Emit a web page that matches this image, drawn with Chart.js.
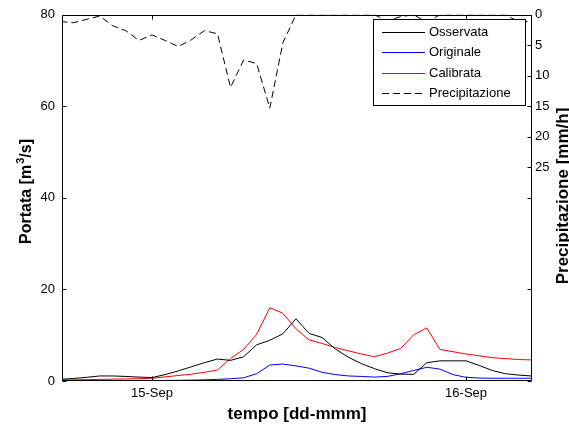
<!DOCTYPE html>
<html>
<head>
<meta charset="utf-8">
<script src="https://cdn.jsdelivr.net/npm/chart.js@4/dist/chart.umd.min.js"></script>
<style>
  html, body { margin: 0; padding: 0; background: #fff; }
</style>
</head>
<body>
<canvas id="chart" width="569" height="425"></canvas>
<script>
//* Data
// hours from 15-Sep 00:00, hourly steps
const hours = [-7, -6, -5, -4, -3, -2, -1, 0, 1, 2, 3, 4, 5, 6, 7, 8, 9, 10, 11, 12, 13, 14, 15, 16, 17, 18, 19, 20, 21, 22, 23, 24, 25, 26, 27, 28, 29];

const osservata = [0.35, 0.55, 0.8, 1.1, 1.1, 1.0, 0.85, 0.75, 1.4, 2.2, 3.1, 4.0, 4.8, 4.5, 5.3, 7.9, 8.9, 10.3, 13.6, 10.4, 9.5, 7.0, 5.2, 3.8, 2.7, 1.8, 1.5, 1.45, 4.0, 4.4, 4.4, 4.4, 3.4, 2.3, 1.6, 1.3, 1.1];
const originale = [0.1, 0.1, 0.1, 0.1, 0.1, 0.1, 0.1, 0.1, 0.12, 0.15, 0.2, 0.25, 0.35, 0.5, 0.7, 1.6, 3.5, 3.7, 3.3, 2.8, 1.9, 1.4, 1.1, 1.0, 0.85, 1.0, 1.6, 2.3, 3.0, 2.6, 1.4, 0.8, 0.65, 0.6, 0.6, 0.6, 0.6];
const calibrata = [0.2, 0.25, 0.3, 0.35, 0.4, 0.45, 0.5, 0.6, 0.9, 1.2, 1.5, 1.9, 2.4, 4.9, 6.9, 10.2, 16.0, 14.8, 11.4, 9.0, 8.2, 7.3, 6.6, 5.9, 5.3, 6.1, 7.1, 10.1, 11.6, 6.9, 6.4, 5.9, 5.5, 5.1, 4.9, 4.7, 4.6];
const precipitazione = [1.1, 1.3, 0.75, 0.2, 1.8, 2.6, 4.2, 3.3, 4.2, 5.2, 4.1, 2.6, 3.1, 11.9, 7.4, 8.0, 15.3, 4.6, 0, 0, 0, 0, 0, 0, 0, 1.0, 0.3, 0, 1.2, 0, 0, 0, 0, 0, 0, 1.1, 1.1];

const xTickHours = [0, 24];
const xTickLabels = ['15-Sep', '16-Sep'];
const yTicks = [0, 20, 40, 60, 80];
const y1Ticks = [0, 5, 10, 15, 20, 25];

const FONT = "'Liberation Sans', Arial, Helvetica, sans-serif";

const pts = arr => hours.map((h, i) => ({ x: h, y: arr[i] }));

//* MATLAB style frame, inward ticks, titles and legend
const matlabAxes = {
  id: 'matlabAxes',
  afterDatasetsDraw(chart) {
    const ctx = chart.ctx;
    const a = chart.chartArea;
    const sx = chart.scales.x, sy = chart.scales.y, sy1 = chart.scales.y1;
    const L = Math.round(a.left) + 0.5, R = Math.round(a.right) - 0.5;
    const T = Math.round(a.top) + 0.5, B = Math.round(a.bottom) - 0.5;
    const tl = 4;
    ctx.save();
    ctx.strokeStyle = '#000';
    ctx.lineWidth = 1;
    ctx.beginPath();
    ctx.rect(L, T, R - L, B - T);
    // x ticks bottom & top
    xTickHours.forEach(v => {
      const px = Math.round(sx.getPixelForValue(v)) + 0.5;
      ctx.moveTo(px, B); ctx.lineTo(px, B - tl);
      ctx.moveTo(px, T); ctx.lineTo(px, T + tl);
    });
    // left ticks and their mirror on the right
    yTicks.forEach(v => {
      const py = Math.round(sy.getPixelForValue(v)) + 0.5;
      ctx.moveTo(L, py); ctx.lineTo(L + tl, py);
      ctx.moveTo(R, py); ctx.lineTo(R - tl, py);
    });
    // right precip ticks
    y1Ticks.forEach(v => {
      const py = Math.round(sy1.getPixelForValue(v)) + 0.5;
      ctx.moveTo(R, py); ctx.lineTo(R - tl, py);
    });
    ctx.stroke();
    ctx.restore();
  },
  afterDraw(chart) {
    const ctx = chart.ctx;
    const a = chart.chartArea;
    ctx.save();
    ctx.fillStyle = '#000';

    // x title
    ctx.font = 'bold 17px ' + FONT;
    ctx.textAlign = 'center';
    ctx.textBaseline = 'alphabetic';
    ctx.fillText('tempo [dd-mmm]', (a.left + a.right) / 2, 419);

    // left title with superscript
    ctx.save();
    ctx.translate(31, 192);
    ctx.rotate(-Math.PI / 2);
    const p1 = 'Portata [m', p2 = '3', p3 = '/s]';
    ctx.font = 'bold 16px ' + FONT;
    const w1 = ctx.measureText(p1).width, w3 = ctx.measureText(p3).width;
    ctx.font = 'bold 11px ' + FONT;
    const w2 = ctx.measureText(p2).width;
    let x0 = -(w1 + w2 + w3) / 2;
    ctx.textAlign = 'left';
    ctx.font = 'bold 16px ' + FONT;
    ctx.fillText(p1, x0, 0);
    ctx.font = 'bold 11px ' + FONT;
    ctx.fillText(p2, x0 + w1 + 1, -7);
    ctx.font = 'bold 16px ' + FONT;
    ctx.fillText(p3, x0 + w1 + w2 + 1, 0);
    ctx.restore();

    // right title (clipped by the canvas edge like the original)
    ctx.save();
    ctx.translate(568, 196);
    ctx.rotate(-Math.PI / 2);
    ctx.font = 'bold 17px ' + FONT;
    ctx.textAlign = 'center';
    ctx.fillText('Precipitazione [mm/h]', 0, 0);
    ctx.restore();

    // legend
    const lx = 373.5, ly = 19.5, lw = 152, lh = 86;
    ctx.fillStyle = '#fff';
    ctx.fillRect(lx, ly, lw, lh);
    ctx.strokeStyle = '#000';
    ctx.lineWidth = 1;
    ctx.strokeRect(lx, ly, lw, lh);
    ctx.font = '13px ' + FONT;
    ctx.textAlign = 'left';
    ctx.textBaseline = 'middle';
    chart.data.datasets.forEach((ds, i) => {
      const y = Math.round(32 + i * 20.3) + 0.5;
      ctx.beginPath();
      ctx.strokeStyle = ds.borderColor;
      ctx.setLineDash(ds.borderDash || []);
      ctx.moveTo(382, y);
      ctx.lineTo(425, y);
      ctx.stroke();
      ctx.setLineDash([]);
      ctx.fillStyle = '#000';
      ctx.fillText(ds.label, 429, y);
    });
    ctx.restore();
  }
};

const ctx = document.getElementById('chart').getContext('2d');
const chart = new Chart(ctx, {
  type: 'line',
  data: {
    datasets: [
      { label: 'Osservata', data: pts(osservata), borderColor: '#000000', yAxisID: 'y' },
      { label: 'Originale', data: pts(originale), borderColor: '#0000ff', yAxisID: 'y' },
      { label: 'Calibrata', data: pts(calibrata), borderColor: '#ff0000', yAxisID: 'y' },
      { label: 'Precipitazione', data: pts(precipitazione), borderColor: '#000000', borderDash: [7, 4], yAxisID: 'y1' },
    ],
  },
  options: {
    responsive: false,
    animation: false,
    devicePixelRatio: 1,
    layout: { padding: { top: 12, left: 0, right: 0, bottom: 0 } },
    elements: {
      line: { borderWidth: 1, tension: 0, fill: false },
      point: { radius: 0 },
    },
    plugins: { legend: { display: false }, tooltip: { enabled: false } },
    scales: {
      x: {
        type: 'linear',
        position: 'bottom',
        min: -6.88,
        max: 29.04,
        grid: { display: false, drawTicks: false },
        border: { display: false },
        afterBuildTicks: s => { s.ticks = xTickHours.map(v => ({ value: v })); },
        afterFit: s => { s.height = 44; },
        ticks: {
          autoSkip: false, maxRotation: 0, padding: 5, color: '#000',
          font: { family: FONT, size: 13 },
          callback: v => xTickLabels[xTickHours.indexOf(v)],
        },
      },
      y: {
        position: 'left',
        min: 0,
        max: 80,
        grid: { display: false, drawTicks: false },
        border: { display: false },
        afterBuildTicks: s => { s.ticks = yTicks.map(v => ({ value: v })); },
        afterFit: s => { s.width = 62; },
        ticks: { padding: 7, color: '#000', font: { family: FONT, size: 13 } },
      },
      y1: {
        position: 'right',
        reverse: true,
        min: 0,
        max: 60,
        grid: { display: false, drawTicks: false },
        border: { display: false },
        afterBuildTicks: s => { s.ticks = y1Ticks.map(v => ({ value: v })); },
        afterFit: s => { s.width = 37; },
        ticks: { padding: 3, color: '#000', font: { family: FONT, size: 13 } },
      },
    },
  },
  plugins: [matlabAxes],
});
</script>
</body>
</html>
